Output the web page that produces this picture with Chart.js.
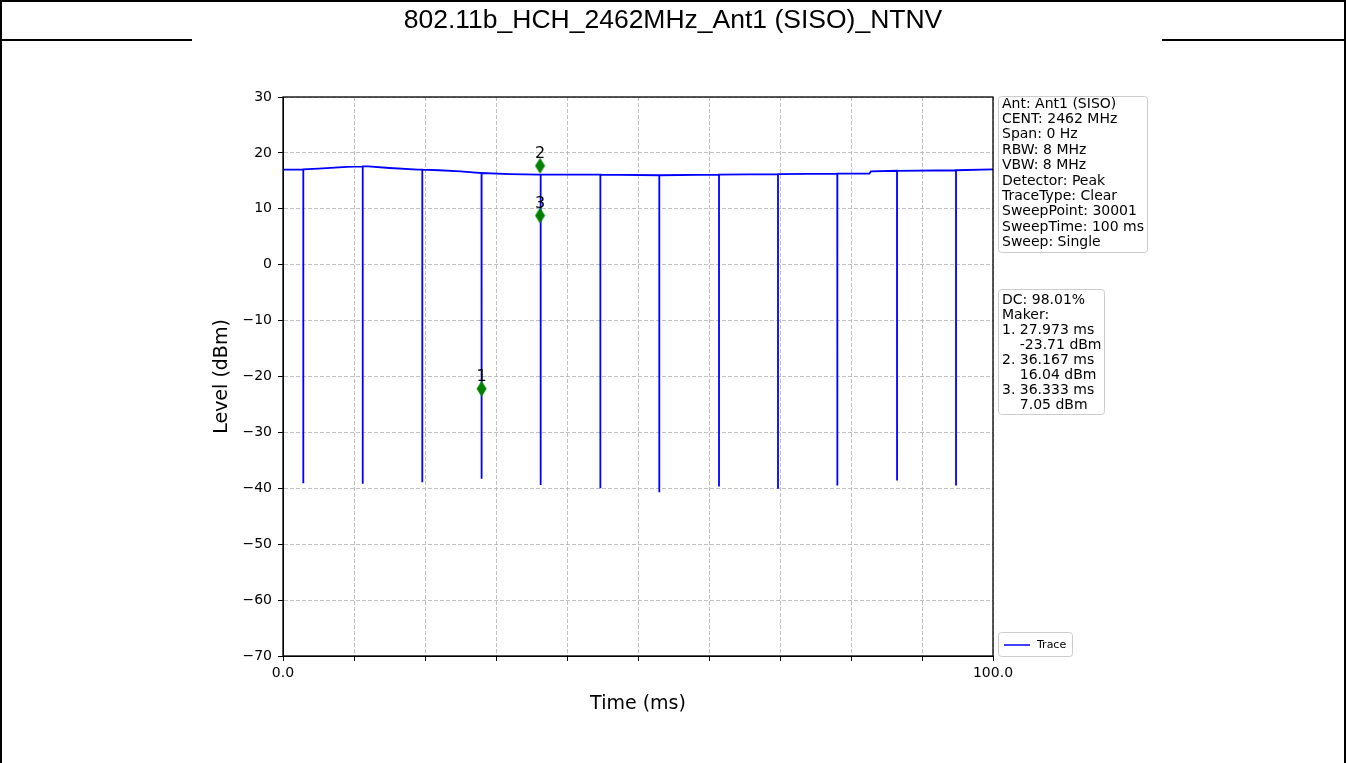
<!DOCTYPE html>
<html>
<head>
<meta charset="utf-8">
<script src="https://cdn.jsdelivr.net/npm/chart.js@4.4.1/dist/chart.umd.min.js"></script>
<style>
html,body{margin:0;padding:0;background:#fff;}
#wrap{position:relative;width:1346px;height:763px;overflow:hidden;}
canvas{display:block;}
</style>
</head>
<body>
<div id="wrap"><canvas id="c" width="1346" height="763"></canvas></div>
<script>
// ---- data ----
const titleText = "802.11b_HCH_2462MHz_Ant1 (SISO)_NTNV";
const baseTime  = [0, 5, 9, 12, 15, 19, 22, 25, 28, 32, 36, 44.7, 53, 61.4, 69.7, 78.1, 82.6, 82.8, 86.5, 94.8, 100];
const baseLevel = [17.0, 17.2, 17.5, 17.6, 17.3, 17.0, 16.9, 16.7, 16.4, 16.2, 16.1, 16.1, 16.0, 16.1, 16.2, 16.3, 16.3, 16.7, 16.8, 16.9, 17.05];
const dipTime   = [2.86, 11.23, 19.62, 27.96, 36.29, 44.70, 53.0, 61.41, 69.72, 78.07, 86.48, 94.79];
const dipTop    = [17.05, 17.6, 17.0, 16.4, 16.1, 16.1, 16.0, 16.1, 16.2, 16.3, 16.8, 16.9];
const dipBottom = [-39.1, -39.2, -38.9, -38.3, -39.4, -40.0, -40.7, -39.7, -40.1, -39.5, -38.6, -39.5];
const markerLabels = ["1", "2", "3"];
const markerTime   = [27.97, 36.2, 36.2];
const markerLevel  = [-22.2, 17.7, 8.8];
const yTicks = [-70, -60, -50, -40, -30, -20, -10, 0, 10, 20, 30];
const xTickLabels = {0: "0.0", 100: "100.0"};
const infoLines = ["Ant: Ant1 (SISO)", "CENT: 2462 MHz", "Span: 0 Hz", "RBW: 8 MHz", "VBW: 8 MHz",
  "Detector: Peak", "TraceType: Clear", "SweepPoint: 30001", "SweepTime: 100 ms", "Sweep: Single"];
const markerInfoLines = ["DC: 98.01%", "Maker:", "1. 27.973 ms", "    -23.71 dBm", "2. 36.167 ms",
  "    16.04 dBm", "3. 36.333 ms", "    7.05 dBm"];
const legendLabel = "Trace";

// ---- build the trace table from the arrays ----
const pts = [];
baseTime.forEach((t, i) => pts.push({x: t, y: baseLevel[i], k: 0}));
dipTime.forEach((t, i) => {
  pts.push({x: t, y: dipTop[i], k: 1});
  pts.push({x: t, y: dipBottom[i], k: 2});
  pts.push({x: t, y: dipTop[i], k: 3});
});
pts.sort((a, b) => a.x - b.x || a.k - b.k);
const tracePts = pts.map(p => ({x: p.x, y: p.y}));
const markerPts = markerTime.map((t, i) => ({x: t, y: markerLevel[i]}));

// thin diamond point style
const dia = document.createElement('canvas');
dia.width = 11; dia.height = 17;
{ const g = dia.getContext('2d'); g.fillStyle = '#008000';
  g.beginPath(); g.moveTo(5.5, 0.5); g.lineTo(10.5, 8.5); g.lineTo(5.5, 16.5); g.lineTo(0.5, 8.5); g.closePath(); g.fill(); }

const DJ = "'DejaVu Sans', sans-serif";

function drawBox(ctx, x1, y1, x2, y2) {
  const r = 3;
  ctx.save();
  ctx.fillStyle = 'rgba(255,255,255,0.8)';
  ctx.strokeStyle = '#cccccc';
  ctx.lineWidth = 1;
  ctx.beginPath();
  ctx.moveTo(x1 + r, y1); ctx.lineTo(x2 - r, y1); ctx.quadraticCurveTo(x2, y1, x2, y1 + r);
  ctx.lineTo(x2, y2 - r); ctx.quadraticCurveTo(x2, y2, x2 - r, y2);
  ctx.lineTo(x1 + r, y2); ctx.quadraticCurveTo(x1, y2, x1, y2 - r);
  ctx.lineTo(x1, y1 + r); ctx.quadraticCurveTo(x1, y1, x1 + r, y1);
  ctx.closePath(); ctx.fill(); ctx.stroke();
  ctx.restore();
}

const decor = {
  id: 'decor',
  beforeDraw(chart) {
    const ctx = chart.ctx;
    ctx.save();
    ctx.fillStyle = '#fff';
    ctx.fillRect(0, 0, chart.width, chart.height);
    ctx.fillStyle = '#000';
    ctx.fillRect(0, 0, 1346, 2);
    ctx.fillRect(0, 0, 2, 763);
    ctx.fillRect(1344, 0, 2, 763);
    ctx.fillRect(0, 39, 192, 2);
    ctx.fillRect(1162, 39, 184, 2);
    ctx.font = "26.5px 'Liberation Sans', Arial, sans-serif";
    ctx.textAlign = 'center'; ctx.textBaseline = 'middle';
    ctx.fillText(titleText, 673, 21);
    ctx.restore();
  },
  afterDraw(chart) {
    const ctx = chart.ctx, a = chart.chartArea;
    const xs = chart.scales.x, ys = chart.scales.y;
    ctx.save();
    ctx.strokeStyle = '#000'; ctx.lineWidth = 1.3;
    ctx.strokeRect(a.left, a.top, a.right - a.left, a.bottom - a.top);
    // marker labels
    ctx.fillStyle = '#000';
    ctx.font = "16px " + DJ;
    ctx.textAlign = 'center'; ctx.textBaseline = 'alphabetic';
    markerPts.forEach((p, i) => {
      ctx.fillText(markerLabels[i], xs.getPixelForValue(p.x), ys.getPixelForValue(p.y) - 8);
    });
    // axis titles
    ctx.font = "19px " + DJ;
    ctx.textBaseline = 'middle';
    ctx.fillText("Time (ms)", (a.left + a.right) / 2, 704);
    ctx.save();
    ctx.translate(222, (a.top + a.bottom) / 2);
    ctx.rotate(-Math.PI / 2);
    ctx.fillText("Level (dBm)", 0, 0);
    ctx.restore();
    // info boxes
    drawBox(ctx, 998.5, 96.5, 1147.5, 252.5);
    drawBox(ctx, 998.5, 289.5, 1104.5, 414.5);
    ctx.fillStyle = '#000';
    ctx.font = "14px " + DJ;
    ctx.textAlign = 'left'; ctx.textBaseline = 'middle';
    infoLines.forEach((s, i) => ctx.fillText(s, 1002, 104 + i * 15.4));
    markerInfoLines.forEach((s, i) => ctx.fillText(s, 1002, 300.5 + i * 15));
    // legend
    drawBox(ctx, 998.5, 632.5, 1072.5, 656.5);
    ctx.strokeStyle = '#0000ff'; ctx.lineWidth = 1.5;
    ctx.beginPath(); ctx.moveTo(1004, 645); ctx.lineTo(1030, 645); ctx.stroke();
    ctx.fillStyle = '#000';
    ctx.font = "11px " + DJ;
    ctx.fillText(legendLabel, 1037, 645);
    ctx.restore();
  }
};

new Chart(document.getElementById('c'), {
  type: 'scatter',
  plugins: [decor],
  data: {
    datasets: [
      {label: legendLabel, data: tracePts, showLine: true, borderColor: '#0000ff', borderWidth: 1.8,
       pointRadius: 0, pointHoverRadius: 0, fill: false, tension: 0, order: 2},
      {label: 'markers', data: markerPts, showLine: false, pointStyle: dia, pointRadius: 8,
       pointHoverRadius: 8, order: 1}
    ]
  },
  options: {
    responsive: false,
    animation: false,
    events: [],
    layout: {padding: {left: 0, right: 353, top: 97, bottom: 0}},
    plugins: {legend: {display: false}, tooltip: {enabled: false}, title: {display: false}},
    scales: {
      x: {
        type: 'linear', min: 0, max: 100,
        afterFit(s) { s.height = 107; },
        afterBuildTicks(s) { s.ticks = [0,10,20,30,40,50,60,70,80,90,100].map(v => ({value: v})); },
        ticks: {autoSkip: false, maxRotation: 0, color: '#000', padding: 4,
                font: {family: DJ, size: 14},
                callback: v => (xTickLabels[v] !== undefined ? xTickLabels[v] : '')},
        grid: {color: '#b0b0b0', lineWidth: 0.8, drawTicks: true, tickLength: 5,
               tickColor: '#000', tickWidth: 1, tickBorderDash: []},
        border: {display: true, color: '#000', width: 1, dash: [4, 2]}
      },
      y: {
        type: 'linear', min: -70, max: 30,
        afterFit(s) { s.width = 283; },
        afterBuildTicks(s) { s.ticks = yTicks.map(v => ({value: v})); },
        ticks: {color: '#000', padding: 6, font: {family: DJ, size: 14},
                callback: v => (v < 0 ? '\u2212' + Math.abs(v) : String(v))},
        grid: {color: '#b0b0b0', lineWidth: 0.8, drawTicks: true, tickLength: 5,
               tickColor: '#000', tickWidth: 1, tickBorderDash: []},
        border: {display: true, color: '#000', width: 1, dash: [4, 2]}
      }
    }
  }
});
</script>
</body>
</html>
